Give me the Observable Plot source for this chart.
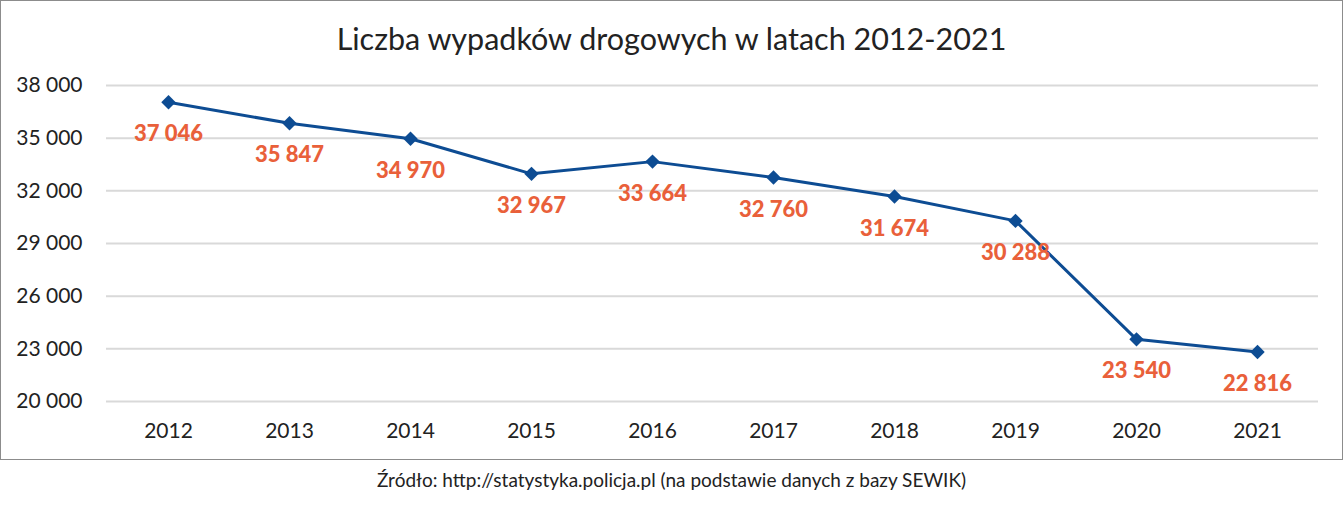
<!DOCTYPE html>
<html><head><meta charset="utf-8">
<script src="https://cdn.jsdelivr.net/npm/d3@7"></script>
<script src="https://cdn.jsdelivr.net/npm/@observablehq/plot@0.6"></script>
<style>
body{margin:0;background:#fff;font-family:Lato,"Open Sans",sans-serif;}
#box{position:absolute;left:0;top:0;width:1343px;height:460px;box-sizing:border-box;border:1px solid #8c8c8c;}
#title{position:absolute;left:0;right:0;top:19px;text-align:center;font-size:30.5px;color:#222;}
#cap{position:absolute;left:0;width:1343px;top:468px;text-align:center;font-size:19px;color:#222;}
#chart{position:absolute;left:0;top:0;}
</style></head>
<body>
<div id="box"><div id="chart"></div><div id="title">Liczba wypadków drogowych w latach 2012-2021</div></div>
<div id="cap">Źródło: http://statystyka.policja.pl (na podstawie danych z bazy SEWIK)</div>
<script>
const years = ["2012","2013","2014","2015","2016","2017","2018","2019","2020","2021"];
const accidents = [37046, 35847, 34970, 32967, 33664, 32760, 31674, 30288, 23540, 22816];
const yTicks = [20000, 23000, 26000, 29000, 32000, 35000, 38000];

const data = years.map((y, i) => ({year: y, value: accidents[i]}));
const fmt = v => d3.format(",")(v).replace(/,/g, " ");

const chart = Plot.plot({
  width: 1341, height: 458,
  marginTop: 84, marginBottom: 58, marginLeft: 105, marginRight: 24,
  style: {fontFamily: "Lato, 'Open Sans', sans-serif", background: "transparent"},
  x: {type: "point", domain: years, padding: 0.5, label: null},
  y: {domain: [20000, 38000], label: null},
  marks: [
    Plot.gridY(yTicks, {stroke: "#d9d9d9", strokeOpacity: 1, strokeWidth: 2}),
    Plot.axisY(yTicks, {tickSize: 0, tickPadding: 24, fontSize: 21, fill: "#222", tickFormat: fmt, label: null}),
    Plot.axisX({tickSize: 0, tickPadding: 22, fontSize: 21, fill: "#222", label: null}),
    Plot.line(data, {x: "year", y: "value", stroke: "#0D4C93", strokeWidth: 3}),
    Plot.dot(data, {x: "year", y: "value", symbol: "diamond2", r: 6.5, fill: "#0D4C93", stroke: "none"}),
    Plot.text(data, {x: "year", y: "value", text: d => fmt(d.value), dy: 32, fill: "#E9603A", fontSize: 22, fontWeight: 900})
  ]
});
document.getElementById("chart").appendChild(chart);
</script>
</body></html>
